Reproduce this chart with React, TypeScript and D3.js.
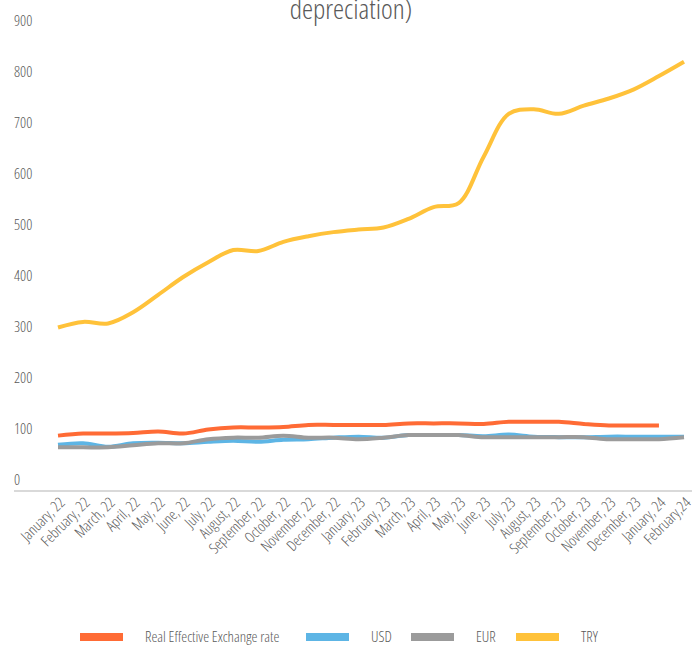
import { useEffect, useRef } from "react";
import * as d3 from "d3";

const months = [
  "January, 22", "February, 22", "March, 22", "April, 22", "May, 22", "June, 22",
  "July, 22", "August, 22", "September, 22", "October, 22", "November, 22", "December, 22",
  "January, 23", "February, 23", "March, 23", "April, 23", "May, 23", "June, 23",
  "July, 23", "August, 23", "September, 23", "October, 23", "November, 23", "December, 23",
  "January, 24", "February,24",
];

const reer = [
  87, 91, 91, 92, 95, 91, 99, 103, 103, 104, 108, 108,
  108, 108, 111, 111, 111, 110, 114, 114, 114, 110, 107, 107,
  107, null,
];
const usd = [
  69, 72, 65, 72, 73, 72, 75, 77, 75, 79, 80, 83,
  85, 83, 88, 88, 88, 86, 89, 85, 84, 84, 85, 85,
  85, 85,
];
const eur = [
  64, 64, 64, 68, 72, 72, 80, 83, 83, 87, 83, 83,
  80, 83, 88, 88, 88, 84, 84, 84, 84, 84, 80, 80,
  80, 84,
];
const tryValues = [
  299, 310, 307, 329, 363, 398, 427, 451, 449, 467, 478, 486,
  491, 495, 512, 535, 543, 634, 718, 727, 718, 734, 748, 766,
  792, 820,
];

const yTicks = [0, 100, 200, 300, 400, 500, 600, 700, 800, 900];

const series = [
  { name: "Real Effective Exchange rate", values: reer, color: "#FF6B35" },
  { name: "USD", values: usd, color: "#5DB5E5" },
  { name: "EUR", values: eur, color: "#9B9B9B" },
  { name: "TRY", values: tryValues, color: "#FFC23A" },
];

const legendX = [80, 306, 411, 516];

const WIDTH = 692;
const HEIGHT = 645;
const FONT = "'Open Sans', sans-serif";
const TEXT = "#595959";

export default function App() {
  const svgRef = useRef<SVGSVGElement>(null);

  useEffect(() => {
    if (!svgRef.current) return;
    const svg = d3.select(svgRef.current);
    svg.selectAll("*").remove();

    const x = d3.scalePoint<string>().domain(months).range([58, 684]);
    const y = d3.scaleLinear().domain([0, 900]).range([480, 21]);

    const txt = (sel: any, size: number) =>
      sel
        .style("font-family", FONT)
        .style("font-stretch", "condensed")
        .style("font-weight", 300)
        .style("font-size", `${size}px`)
        .style("fill", TEXT);

    // title (first line is cut off above the frame)
    txt(
      svg
        .append("text")
        .attr("x", 351)
        .attr("y", 19)
        .attr("text-anchor", "middle")
        .text("depreciation)"),
      28
    );

    // y labels
    txt(
      svg
        .append("g")
        .selectAll("text")
        .data(yTicks)
        .enter()
        .append("text")
        .attr("x", 14)
        .attr("y", (d: number) => y(d))
        .attr("dy", "0.35em")
        .text((d: number) => d),
      15
    );

    // horizontal axis line
    svg
      .append("line")
      .attr("x1", 14)
      .attr("x2", WIDTH)
      .attr("y1", y(0) + 11)
      .attr("y2", y(0) + 11)
      .style("stroke", "#d9d9d9")
      .style("stroke-width", 2);

    // x labels
    txt(
      svg
        .append("g")
        .selectAll("text")
        .data(months)
        .enter()
        .append("text")
        .attr("transform", (d: string) => `translate(${(x(d) ?? 0) + 4},${y(0) + 20}) rotate(-45)`)
        .attr("text-anchor", "end")
        .attr("dy", "0.35em")
        .text((d: string) => d),
      15
    );

    const line = d3
      .line<number | null>()
      .defined((d) => d !== null)
      .x((_, i) => x(months[i]) ?? 0)
      .y((d) => y(d as number))
      .curve(d3.curveCatmullRom.alpha(0.5));

    svg
      .append("g")
      .selectAll("path")
      .data(series)
      .enter()
      .append("path")
      .attr("d", (s) => line(s.values))
      .style("fill", "none")
      .style("stroke", (s) => s.color)
      .style("stroke-width", 4)
      .style("stroke-linejoin", "round");

    // legend
    const legend = svg
      .append("g")
      .selectAll("g")
      .data(series)
      .enter()
      .append("g")
      .attr("transform", (_, i) => `translate(${legendX[i]},637)`);

    legend
      .append("rect")
      .attr("x", 0)
      .attr("y", -4)
      .attr("width", 43)
      .attr("height", 8)
      .style("fill", (s) => s.color);

    txt(
      legend
        .append("text")
        .attr("x", 65)
        .attr("y", 0)
        .attr("dy", "0.35em")
        .text((s: { name: string }) => s.name),
      15
    );
  }, []);

  return (
    <svg
      ref={svgRef}
      width={WIDTH}
      height={HEIGHT}
      style={{ position: "absolute", left: 0, top: 0, background: "#fff" }}
    />
  );
}
